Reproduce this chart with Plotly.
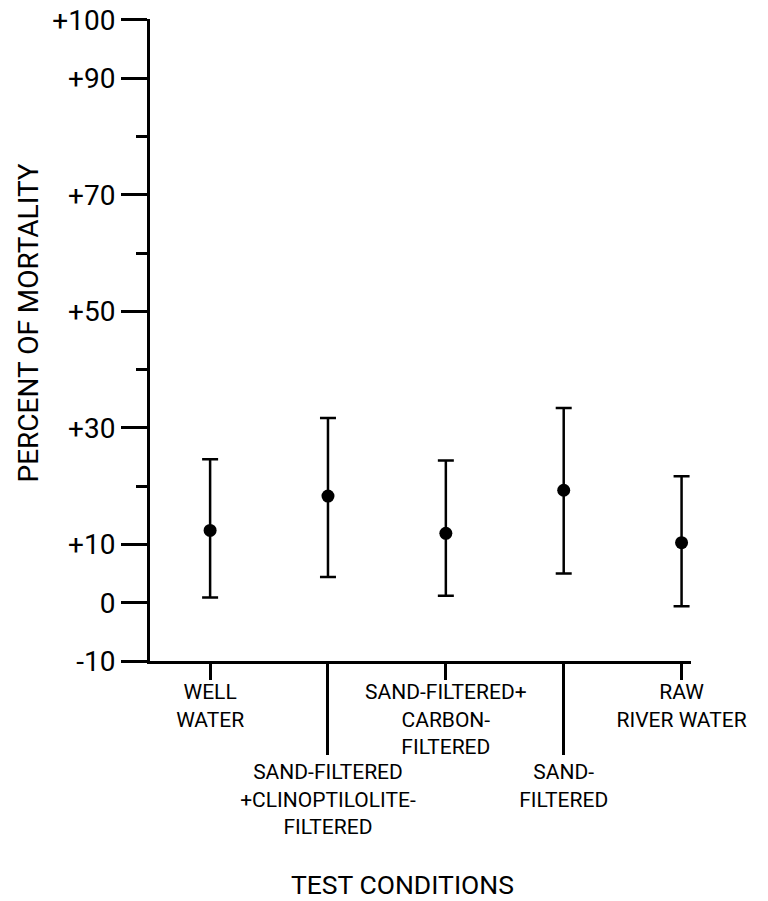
import plotly.graph_objects as go

# ---- data ----
categories = [
    "WELL<br>WATER",
    "SAND-FILTERED<br>+CLINOPTILOLITE-<br>FILTERED",
    "SAND-FILTERED+<br>CARBON-<br>FILTERED",
    "SAND-<br>FILTERED",
    "RAW<br>RIVER WATER",
]
mortality = [12.4, 18.3, 11.9, 19.3, 10.3]
upper = [24.6, 31.7, 24.4, 33.4, 21.7]
lower = [0.9, 4.4, 1.2, 5.0, -0.6]

y_tickvals = [-10, 0, 10, 30, 50, 70, 90, 100]
y_ticktext = ["-10", "0", "+10", "+30", "+50", "+70", "+90", "+100"]
y_minor = [20, 40, 60, 80]

FONT = "Roboto, Liberation Sans, sans-serif"

xpos = list(range(len(categories)))
short_idx = [0, 2, 4]   # labels hanging from short ticks
long_idx = [1, 3]       # labels hanging from long ticks


def trace(idx, axis):
    return go.Scatter(
        x=[xpos[i] for i in idx],
        y=[mortality[i] for i in idx],
        xaxis=axis,
        mode="markers",
        marker=dict(color="black", size=13),
        error_y=dict(
            type="data",
            symmetric=False,
            array=[upper[i] - mortality[i] for i in idx],
            arrayminus=[mortality[i] - lower[i] for i in idx],
            color="black",
            thickness=2.5,
            width=8,
        ),
        cliponaxis=False,
        showlegend=False,
        hoverinfo="x+y",
    )


fig = go.Figure([trace(short_idx, "x"), trace(long_idx, "x2")])

common_x = dict(
    range=[-0.51, 4.08],
    showgrid=False,
    zeroline=False,
    automargin=False,
    ticks="outside",
    tickcolor="black",
    tickwidth=2.5,
    tickfont=dict(family=FONT, size=21, color="black"),
)

fig.update_layout(
    width=768,
    height=901,
    margin=dict(l=150, r=77, t=19, b=240),
    paper_bgcolor="white",
    plot_bgcolor="white",
    xaxis=dict(
        **common_x,
        tickvals=[xpos[i] for i in short_idx],
        ticktext=[categories[i] for i in short_idx],
        ticklen=16,
        ticklabelstandoff=-6,
        showline=True,
        linecolor="black",
        linewidth=3,
    ),
    xaxis2=dict(
        **common_x,
        overlaying="x",
        matches="x",
        anchor="y",
        side="bottom",
        tickvals=[xpos[i] for i in long_idx],
        ticktext=[categories[i] for i in long_idx],
        ticklen=93,
        ticklabelstandoff=-1,
        showline=False,
    ),
    yaxis=dict(
        range=[-10, 100.15],
        automargin=False,
        showgrid=False,
        zeroline=False,
        showline=True,
        linecolor="black",
        linewidth=3,
        tickvals=y_tickvals,
        ticktext=y_ticktext,
        ticks="outside",
        ticklen=26,
        tickwidth=2.5,
        tickcolor="black",
        tickfont=dict(family=FONT, size=28, color="black"),
        minor=dict(tickvals=y_minor, ticks="outside", ticklen=11,
                   tickwidth=2.5, tickcolor="black"),
    ),
    annotations=[
        dict(text="PERCENT OF MORTALITY", xref="paper", yref="paper",
             x=0, xshift=-121, y=0.5257, textangle=-90,
             xanchor="center", yanchor="middle", showarrow=False,
             font=dict(family=FONT, size=28, color="black")),
        dict(text="TEST CONDITIONS", xref="paper", yref="paper",
             x=0.466, y=-0.348, xanchor="center", yanchor="middle",
             showarrow=False,
             font=dict(family=FONT, size=26.5, color="black")),
    ],
)

fig.write_html("out.html")
